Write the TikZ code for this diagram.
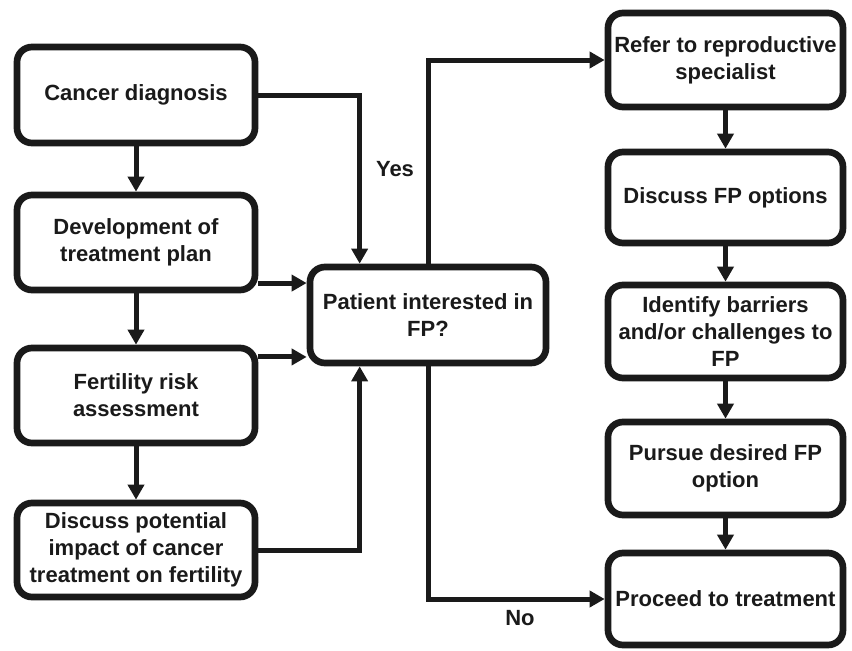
\documentclass[tikz,border=0pt]{standalone}
\usepackage{fontspec}
\setmainfont{Liberation Sans}
\usetikzlibrary{arrows.meta,positioning}
\definecolor{ink}{HTML}{1A1A1A}
\begin{document}
\begin{tikzpicture}[x=1pt,y=-1pt,
  box/.style={draw=ink,line width=6.7pt,rounded corners=15pt,fill=white,
    inner sep=0pt,align=center,text=ink,
    font=\bfseries\fontsize{22}{27}\selectfont},
  lbox/.style={box,minimum width=238pt,minimum height=96pt},
  mbox/.style={box,minimum width=236pt,minimum height=96pt},
  rbox/.style={box,minimum width=235pt,minimum height=93pt},
  arr/.style={draw=ink,line width=5pt,-{Triangle[length=15pt,width=16pt]}},
  lbl/.style={text=ink,font=\bfseries\fontsize{22}{27}\selectfont,inner sep=0pt}]
\useasboundingbox (0,0) rectangle (852,651);
% left column
\node[lbox] (cancer) at (136,95) {Cancer diagnosis};
\node[lbox,minimum height=95pt] (dev) at (136,242.5) {Development of\\treatment plan};
\node[lbox,minimum height=95pt] (fert) at (136,395.5) {Fertility risk\\assessment};
\node[lbox,minimum height=94pt] (disc) at (136,550) {Discuss potential\\impact of cancer\\treatment on fertility};
% middle
\node[mbox] (mid) at (428,315) {Patient interested in\\FP?};
% right column
\node[rbox,minimum height=94pt] (refer) at (725.5,60) {Refer to reproductive\\specialist};
\node[rbox,minimum height=91pt] (fpopt) at (725.5,197.5) {Discuss FP options};
\node[rbox] (ident) at (725.5,331.5) {Identify barriers\\and/or challenges to\\FP};
\node[rbox] (pursue) at (725.5,468.5) {Pursue desired FP\\option};
\node[rbox,minimum height=92pt] (proc) at (725.5,599) {Proceed to treatment};
% helper coordinates
\coordinate (yesdrop) at ([xshift=53pt]mid.north west);
\coordinate (nodrop) at ([xshift=53pt]mid.south west);
\coordinate (devout) at ([yshift=10.3pt]dev.south east);
\coordinate (fertout) at ([yshift=-12.3pt]fert.north east);
% left column arrows
\draw[arr] (cancer) -- (dev);
\draw[arr] (dev) -- (fert);
\draw[arr] (fert) -- (disc);
% into middle
\draw[arr] (cancer.east) -| (yesdrop);
\draw[arr] (devout) -- (devout -| mid.west);
\draw[arr] (fertout) -- (fertout -| mid.west);
\draw[arr] (disc.east) -| (nodrop);
% out of middle
\draw[arr] (mid.north) |- (refer.west);
\draw[arr] (mid.south) |- (proc.west);
% right column arrows
\draw[arr] (refer) -- (fpopt);
\draw[arr] (fpopt) -- (ident);
\draw[arr] (ident) -- (pursue);
\draw[arr] (pursue) -- (proc);
% labels
\node[lbl] (yes) at (395,169) {Yes};
\node[lbl] (no) at (520,618) {No};
\end{tikzpicture}
\end{document}
